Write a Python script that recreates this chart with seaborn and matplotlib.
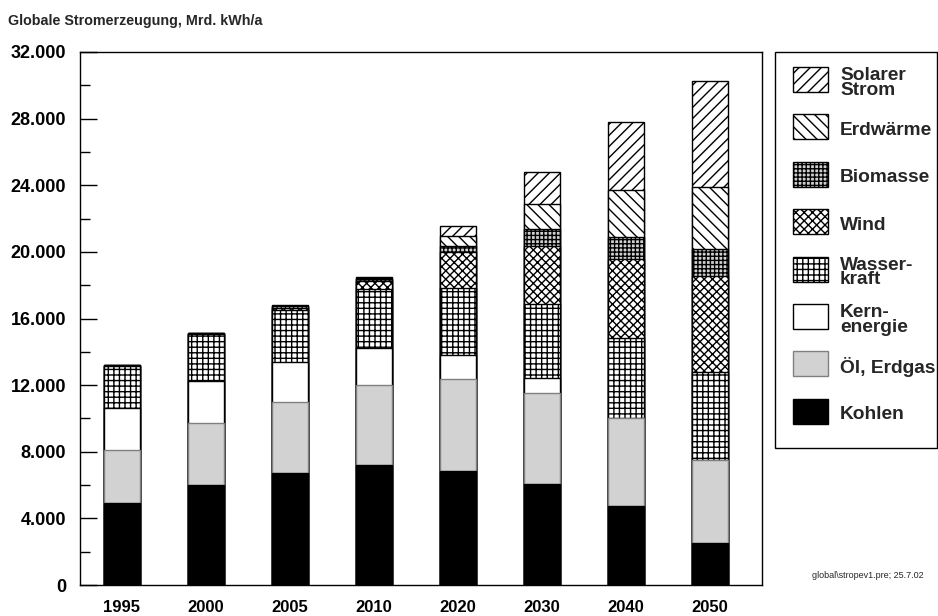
import numpy as np
import pandas as pd
import matplotlib
matplotlib.use("Agg")
import matplotlib.pyplot as plt
import seaborn as sns
from matplotlib.patches import Rectangle
from matplotlib.ticker import MultipleLocator, FuncFormatter

# Daten (Mrd. kWh/a), von unten nach oben gestapelt
jahre = ["1995", "2000", "2005", "2010", "2020", "2030", "2040", "2050"]
kohlen = [4900, 6000, 6700, 7200, 6850, 6050, 4750, 2550]
oel_erdgas = [3200, 3750, 4300, 4800, 5500, 5500, 5300, 4950]
kernenergie = [2500, 2500, 2400, 2200, 1450, 850, 0, 0]
wasserkraft = [2550, 2800, 3100, 3550, 4050, 4450, 4800, 5300]
wind = [20, 30, 150, 500, 2150, 3500, 4700, 5750]
biomasse = [20, 30, 100, 150, 350, 1050, 1350, 1600]
erdwaerme = [0, 0, 30, 60, 600, 1450, 2800, 3750]
solar = [0, 0, 20, 40, 600, 1950, 4100, 6350]

namen = ["Kohlen", "Öl, Erdgas", "Kern-\nenergie", "Wasser-\nkraft",
         "Wind", "Biomasse", "Erdwärme", "Solarer\nStrom"]
werte = [kohlen, oel_erdgas, kernenergie, wasserkraft, wind, biomasse, erdwaerme, solar]

# Füllung / Schraffur je Energieträger
stile = [
    dict(color="black", edgecolor="black", hatch=None),
    dict(color="#d2d2d2", edgecolor="#808080", hatch=None),
    dict(color="white", edgecolor="black", hatch=None),
    dict(color="white", edgecolor="black", hatch="+++"),
    dict(color="white", edgecolor="black", hatch="xxxx"),
    dict(color="#d0d0d0", edgecolor="black", hatch="++++"),
    dict(color="white", edgecolor="black", hatch="\\\\\\"),
    dict(color="white", edgecolor="black", hatch="///"),
]

sns.set_theme(style="white")
plt.rcParams["font.family"] = ["Liberation Sans", "DejaVu Sans"]
plt.rcParams["hatch.linewidth"] = 1.0

W, H = 938, 616
fig = plt.figure(figsize=(W / 100, H / 100), dpi=100)
ax = fig.add_axes([80 / W, 1 - 585 / H, (762 - 80) / W, (585 - 52) / H])

df = pd.DataFrame({"Jahr": jahre})
kum = np.cumsum(np.array(werte), axis=0)

# höchste Summe zuerst, dann die darunter liegenden Schichten darüber malen
for i in range(len(werte) - 1, -1, -1):
    df["wert"] = kum[i]
    st = stile[i]
    sns.barplot(data=df, x="Jahr", y="wert", ax=ax, color=st["color"],
                edgecolor=st["edgecolor"], hatch=st["hatch"], linewidth=1.0,
                width=0.43, saturation=1, errorbar=None)

ax.set_xlim(-0.5, 7.62)
ax.set_ylim(0, 32000)
ax.set_xlabel("")
ax.set_ylabel("")
for s in ax.spines.values():
    s.set_visible(True)
    s.set_color("black")
    s.set_linewidth(1.0)

ax.yaxis.set_major_locator(MultipleLocator(4000))
ax.yaxis.set_minor_locator(MultipleLocator(2000))
ax.yaxis.set_major_formatter(FuncFormatter(lambda v, p: f"{v:,.0f}".replace(",", ".")))
ax.tick_params(axis="y", which="major", direction="in", length=12, width=1, color="black",
               pad=10, labelsize=13, left=True)
ax.tick_params(axis="y", which="minor", direction="in", length=7, width=1, color="black", left=True)
ax.tick_params(axis="x", length=0, pad=11, labelsize=12)
for t in ax.get_yticklabels() + ax.get_xticklabels():
    t.set_fontweight("bold")
    t.set_color("black")

# Titel und Fußnote
fig.text(8 / W, 1 - 21 / H, "Globale Stromerzeugung, Mrd. kWh/a", fontsize=10.3,
         fontweight="bold", va="center", ha="left")
fig.text(812 / W, 1 - 576 / H, "global\\stropev1.pre; 25.7.02", fontsize=6.5,
         va="center", ha="left")


# Legende von Hand, in Pixelkoordinaten der Abbildung
def fx(px):
    return px / W


def fy(py):
    return 1 - py / H


fig.add_artist(Rectangle((fx(775), fy(448)), fx(937) - fx(775), fy(52) - fy(448),
                         transform=fig.transFigure, facecolor="white", edgecolor="black",
                         linewidth=1.0))
for k, i in enumerate(range(len(werte) - 1, -1, -1)):
    top = 67 + k * 47.4
    st = stile[i]
    fig.add_artist(Rectangle((fx(793), fy(top + 25)), fx(828) - fx(793), fy(top) - fy(top + 25),
                             transform=fig.transFigure, facecolor=st["color"],
                             edgecolor=st["edgecolor"], hatch=st["hatch"], linewidth=1.0))
    fig.text(fx(840), fy(top + 16), namen[i], fontsize=13.8, fontweight="bold",
             va="center", ha="left", linespacing=0.82)

fig.savefig("out.png", dpi=100)
